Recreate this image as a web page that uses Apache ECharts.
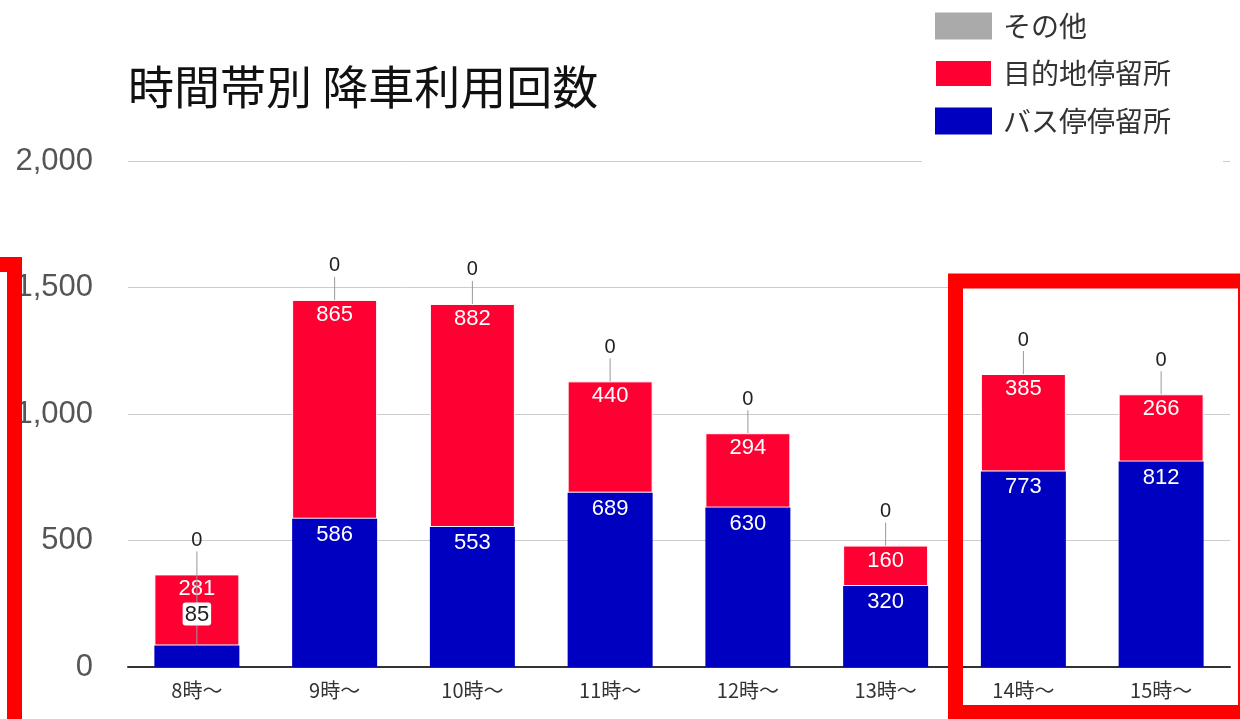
<!DOCTYPE html>
<html>
<head>
<meta charset="utf-8">
<script src="https://cdn.jsdelivr.net/npm/echarts@6/dist/echarts.min.js"></script>
<style>
  html, body { margin: 0; padding: 0; background: #fff; }
  #chart { width: 1240px; height: 719px; }
</style>
</head>
<body>
<div id="chart"></div>
<script>
const hours = ['8時～', '9時～', '10時～', '11時～', '12時～', '13時～', '14時～', '15時～']
const busStop = [85, 586, 553, 689, 630, 320, 773, 812]      // バス停停留所
const destStop = [281, 865, 882, 440, 294, 160, 385, 266]    // 目的地停留所
const others = [0, 0, 0, 0, 0, 0, 0, 0]                      // その他
const yTicks = [0, 500, 1000, 1500, 2000]

const colors = ['#aaaaaa', '#ff0033', '#0000c0']
const numFont = '"Liberation Sans", Arial, "Noto Sans CJK JP", sans-serif'
const jpFont = '"Noto Sans CJK JP", "Liberation Sans", sans-serif'

const chart = echarts.init(document.getElementById('chart'))

// leader line + "その他" label above each stack
const leaderData = hours.map((h, i) => {
  const total = busStop[i] + destStop[i] + others[i]
  // small blue segment -> its label sits above, line starts at blue top
  const base = busStop[i] < 150 ? busStop[i] : total
  return [i, total, base, others[i]]
})

const option = {
  animation: false,
  textStyle: { fontFamily: numFont },
  title: {
    text: '時間帯別 降車利用回数',
    left: 123,
    top: 59,
    textStyle: { fontSize: 46, fontWeight: 'normal', color: '#111', fontFamily: jpFont }
  },
  legend: {
    orient: 'vertical',
    left: 922,
    top: 0,
    padding: [12, 52, 41, 12],
    backgroundColor: '#fff',
    itemWidth: 57,
    itemHeight: 27,
    itemGap: 19,
    icon: 'rect',
    data: ['その他', '目的地停留所', 'バス停停留所'],
    textStyle: { fontSize: 28, color: '#333', fontFamily: jpFont, padding: [0, 0, 0, 6] }
  },
  grid: { left: 128, right: 10, top: 161, bottom: 52 },
  xAxis: {
    type: 'category',
    data: hours,
    axisTick: { show: false },
    axisLine: { lineStyle: { color: '#333', width: 2 } },
    axisLabel: { fontSize: 20, color: '#333', margin: 13, fontFamily: jpFont }
  },
  yAxis: {
    type: 'value',
    min: yTicks[0],
    max: yTicks[yTicks.length - 1],
    interval: 500,
    axisLine: { show: false },
    axisTick: { show: false },
    splitLine: { lineStyle: { color: '#cccccc' } },
    axisLabel: {
      fontSize: 31,
      color: '#555',
      margin: 35,
      formatter: v => v.toLocaleString('en-US')
    }
  },
  graphic: [
    {
      type: 'rect', z: 100,
      shape: { x: 955.5, y: 281, width: 290, height: 431.5 },
      style: { fill: 'none', stroke: '#ff0000', lineWidth: 15 }
    },
    {
      type: 'rect', z: 100,
      shape: { x: -40, y: 264.5, width: 54.5, height: 520 },
      style: { fill: 'none', stroke: '#ff0000', lineWidth: 15 }
    }
  ],
  series: [
    {
      name: 'バス停停留所',
      type: 'bar',
      stack: 'total',
      barWidth: 85,
      z: 4,
      itemStyle: { color: colors[2] },
      label: {
        show: true,
        position: 'insideTop',
        distance: 5,
        fontSize: 22,
        color: '#fff'
      },
      data: busStop.map(v => v < 150 ? {
        value: v,
        label: {
          position: 'top', distance: 20, color: '#222',
          backgroundColor: '#fff', padding: [1, 2, 0, 2], borderRadius: 3
        }
      } : v)
    },
    {
      name: '目的地停留所',
      type: 'bar',
      stack: 'total',
      barWidth: 85,
      z: 2,
      itemStyle: { color: colors[1], borderColor: '#fff', borderWidth: 1 },
      label: {
        show: true,
        position: 'insideTop',
        distance: 4,
        fontSize: 22,
        color: '#fff'
      },
      data: destStop
    },
    {
      name: 'その他',
      type: 'bar',
      stack: 'total',
      barWidth: 85,
      z: 2,
      itemStyle: { color: colors[0] },
      data: others
    },
    {
      type: 'custom',
      z: 3,
      silent: true,
      encode: { x: 0, y: 1 },
      data: leaderData,
      renderItem: (params, api) => {
        const i = api.value(0)
        const top = api.coord([i, api.value(1)])
        const base = api.coord([i, api.value(2)])
        return {
          type: 'group',
          children: [
            {
              type: 'line',
              shape: { x1: top[0], y1: base[1], x2: top[0], y2: top[1] - 23 },
              style: { stroke: '#999', lineWidth: 1 }
            },
            {
              type: 'text',
              style: {
                text: String(api.value(3)),
                x: top[0], y: top[1] - 34,
                align: 'center', verticalAlign: 'middle',
                font: '20px ' + numFont,
                fill: '#222'
              }
            }
          ]
        }
      }
    }
  ]
}

chart.setOption(option)
</script>
</body>
</html>
